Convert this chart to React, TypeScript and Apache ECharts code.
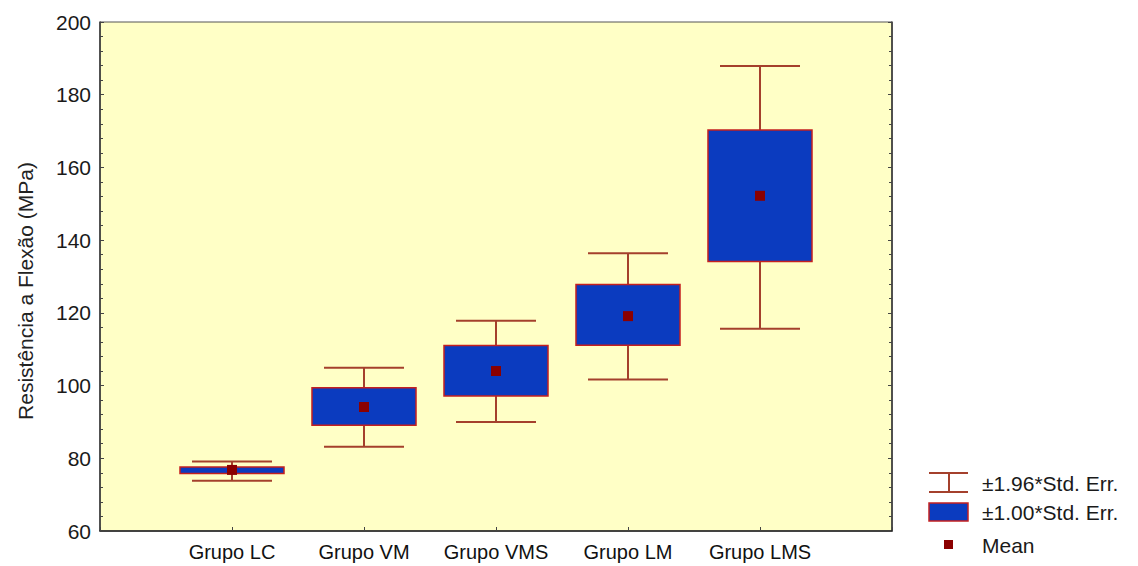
import React, { useEffect, useRef } from "react";
import * as echarts from "echarts";

const categories = ["Grupo LC", "Grupo VM", "Grupo VMS", "Grupo LM", "Grupo LMS"];
const means = [76.8, 94.1, 104.0, 119.1, 152.2];
const seLow = [75.8, 89.1, 97.1, 111.1, 134.1];
const seHigh = [77.6, 99.4, 111.0, 127.8, 170.3];
const ciLow = [73.8, 83.2, 90.0, 101.7, 115.6];
const ciHigh = [79.1, 104.9, 117.8, 136.4, 187.9];
const yTicks = [60, 80, 100, 120, 140, 160, 180, 200];
const legendLabels = ["±1.96*Std. Err.", "±1.00*Std. Err.", "Mean"];

const FONT = "'Liberation Sans', Arial, sans-serif";
const BOX_FILL = "#0B3BBF";
const BOX_BORDER = "#C42020";
const WHISKER = "#A4402C";
const MEAN = "#8B0000";

export default function App() {
  const ref = useRef<HTMLDivElement>(null);
  useEffect(() => {
    if (!ref.current) return;
    const chart = echarts.init(ref.current, undefined, { renderer: "svg" });
    const data = categories.map((c, i) => [i + 1, means[i], seLow[i], seHigh[i], ciLow[i], ciHigh[i]]);
    const axisCommon = {
      type: "value" as const,
      min: yTicks[0],
      max: yTicks[yTicks.length - 1],
      interval: 20,
      splitLine: { show: false },
      axisLine: { show: true, lineStyle: { color: "#333", width: 1.5 } },
      axisTick: { show: true, inside: true, length: 4, lineStyle: { color: "#444" } },
      minorTick: { show: true, splitNumber: 5, length: 3, lineStyle: { color: "#444" } },
    };
    chart.setOption({
      animation: false,
      grid: {
        left: 100,
        top: 22,
        width: 792,
        height: 509,
        show: true,
        backgroundColor: "#FFFFC6",
        borderColor: "#555",
        borderWidth: 1,
      },
      xAxis: {
        type: "value",
        min: 0,
        max: 6,
        interval: 1,
        splitLine: { show: false },
        axisLine: { show: true, lineStyle: { color: "#222", width: 1.5 } },
        axisTick: { show: true, inside: true, length: 4, lineStyle: { color: "#444" } },
        axisLabel: {
          fontFamily: FONT,
          fontSize: 20,
          color: "#111",
          margin: 11,
          formatter: (v: number) => (v >= 1 && v <= categories.length ? categories[v - 1] : ""),
        },
      },
      yAxis: [
        {
          ...axisCommon,
          position: "left",
          axisLabel: { fontFamily: FONT, fontSize: 21, color: "#1a1a1a", margin: 9 },
        },
        {
          ...axisCommon,
          position: "right",
          axisLabel: { show: false },
        },
      ],
      series: [
        {
          type: "custom",
          xAxisIndex: 0,
          yAxisIndex: 0,
          data,
          encode: { x: 0, y: [1, 2, 3, 4, 5] },
          renderItem: (params: any, api: any) => {
            const x = api.value(0);
            const m = api.coord([x, api.value(1)]);
            const sl = api.coord([x, api.value(2)]);
            const sh = api.coord([x, api.value(3)]);
            const cl = api.coord([x, api.value(4)]);
            const ch = api.coord([x, api.value(5)]);
            const unit = api.size([1, 0])[0];
            const bh = unit * 0.394;
            const chw = unit * 0.303;
            const cx = m[0];
            const ws = { stroke: WHISKER, lineWidth: 2 };
            return {
              type: "group",
              children: [
                { type: "line", shape: { x1: cx, y1: cl[1], x2: cx, y2: ch[1] }, style: ws },
                { type: "line", shape: { x1: cx - chw, y1: cl[1], x2: cx + chw, y2: cl[1] }, style: ws },
                { type: "line", shape: { x1: cx - chw, y1: ch[1], x2: cx + chw, y2: ch[1] }, style: ws },
                {
                  type: "rect",
                  shape: { x: cx - bh, y: sh[1], width: 2 * bh, height: sl[1] - sh[1] },
                  style: { fill: BOX_FILL, stroke: BOX_BORDER, lineWidth: 1.5 },
                },
                {
                  type: "rect",
                  shape: { x: cx - 5, y: m[1] - 5, width: 10, height: 10 },
                  style: { fill: MEAN },
                },
              ],
            };
          },
        },
      ],
      graphic: [
        {
          type: "text",
          x: 25,
          y: 291,
          rotation: Math.PI / 2,
          style: {
            text: "Resistência a Flexão (MPa)",
            font: `21px ${FONT}`,
            fill: "#222",
            align: "center",
            verticalAlign: "middle",
          },
        },
        { type: "line", shape: { x1: 929, y1: 473, x2: 968, y2: 473 }, style: { stroke: WHISKER, lineWidth: 2 } },
        { type: "line", shape: { x1: 929, y1: 492, x2: 968, y2: 492 }, style: { stroke: WHISKER, lineWidth: 2 } },
        { type: "line", shape: { x1: 949, y1: 473, x2: 949, y2: 492 }, style: { stroke: WHISKER, lineWidth: 2 } },
        {
          type: "rect",
          shape: { x: 929, y: 503, width: 39, height: 18 },
          style: { fill: BOX_FILL, stroke: BOX_BORDER, lineWidth: 1.5 },
        },
        { type: "rect", shape: { x: 944, y: 540, width: 9, height: 9 }, style: { fill: MEAN } },
        ...legendLabels.map((t, i) => ({
          type: "text",
          x: 982,
          y: [483, 512, 545][i],
          style: { text: t, font: `21px ${FONT}`, fill: "#1a1a1a", verticalAlign: "middle", align: "left" },
        })),
      ],
    });
    return () => chart.dispose();
  }, []);
  return (
    <div
      ref={ref}
      style={{ position: "absolute", left: 0, top: 0, width: 1138, height: 566 }}
    />
  );
}
